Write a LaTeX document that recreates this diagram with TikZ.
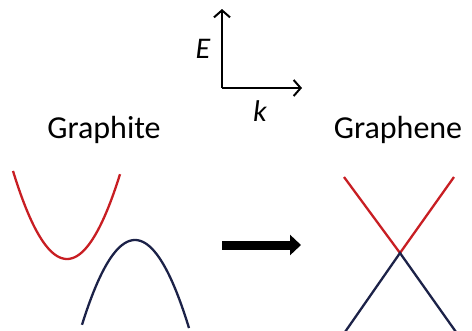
\documentclass[tikz,border=0pt]{standalone}
\usepackage{fontspec}
\setmainfont{Carlito}
\usetikzlibrary{arrows.meta}
\definecolor{bandred}{RGB}{200,30,35}
\definecolor{bandblue}{RGB}{28,34,72}
\begin{document}
\begin{tikzpicture}[x=1pt,y=-1pt,
  axis/.style={line width=2pt,-{Straight Barb[length=7pt,width=16pt,line width=2pt]}},
  band/.style={line width=2.3pt},
  lbl/.style={font=\fontsize{32}{32}\selectfont,inner sep=0pt},
  axlbl/.style={font=\fontsize{30}{30}\selectfont\itshape,inner sep=0pt}]
\useasboundingbox (0,0) rectangle (472,330);
% axes
\coordinate (O) at (222,88);
\coordinate (Etop) at (222,9);
\coordinate (kend) at (302,88);
\draw[axis] (O) -- (Etop);
\draw[axis] (O) -- (kend);
\node[axlbl] (E) at (203,49) {E};
\node[axlbl] (k) at (260,111) {k};
% titles
\node[lbl] (gt) at (104,130) {Graphite};
\node[lbl] (gn) at (398,130) {Graphene};
% graphite bands
\draw[band,bandred] plot[domain=13:120,samples=60,smooth] (\x,{259-0.0302*(\x-67)^2});
\draw[band,bandblue] plot[domain=82:189,samples=60,smooth] (\x,{240+0.0302*(\x-135)^2});
% arrow
\coordinate (a1) at (222,245);
\coordinate (a2) at (301,245);
\draw[line width=9pt,-{Triangle[length=11pt,width=20pt]}] (a1) -- (a2);
% graphene cones
\coordinate (D) at (400,253);
\coordinate (rl) at (344,177);
\coordinate (rr) at (454,177);
\coordinate (bl) at (345,332);
\coordinate (br) at (456,332);
\draw[band,bandred] (rl) -- (D) -- (rr);
\draw[band,bandblue] (bl) -- (D) -- (br);
\end{tikzpicture}
\end{document}
